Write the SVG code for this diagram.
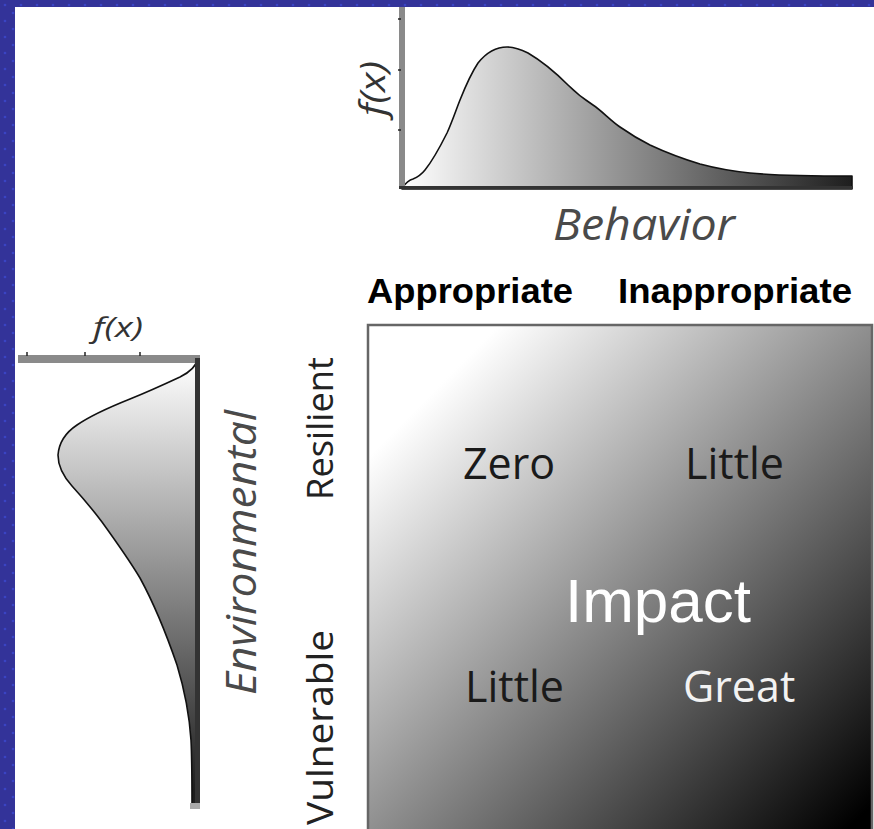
<svg xmlns="http://www.w3.org/2000/svg" width="874" height="829" viewBox="0 0 874 829">
  <defs>
    <pattern id="dots" width="16" height="16" patternUnits="userSpaceOnUse">
      <rect width="16" height="16" fill="#333399"/>
      <circle cx="5" cy="5" r="1.3" fill="#3a44c4"/>
      <circle cx="13" cy="13" r="1.3" fill="#3a44c4"/>
    </pattern>
    <linearGradient id="gradBehavior" gradientUnits="userSpaceOnUse" x1="403" y1="0" x2="852" y2="0">
      <stop offset="0" stop-color="#ffffff"/>
      <stop offset="1" stop-color="#1e1e1e"/>
    </linearGradient>
    <linearGradient id="gradEnv" gradientUnits="userSpaceOnUse" x1="0" y1="360" x2="0" y2="790">
      <stop offset="0" stop-color="#ffffff"/>
      <stop offset="1" stop-color="#1e1e1e"/>
    </linearGradient>
    <linearGradient id="gradImpact" x1="0" y1="0" x2="1" y2="1">
      <stop offset="0.13" stop-color="#ffffff"/>
      <stop offset="0.97" stop-color="#000000"/>
    </linearGradient>
    <style>
      .axis { fill: #8a8a8a; }
      .tick { stroke: #222; stroke-width: 1.5; }
      .curve { stroke: #111; stroke-width: 1.6; stroke-linejoin: round; }
      .ital { font-family: "Open Sans", "DejaVu Sans", sans-serif; font-style: italic; }
      .plain { font-family: "Open Sans", "DejaVu Sans", sans-serif; }
      .head { font-family: "Liberation Sans", Arial, sans-serif; font-weight: bold; font-size: 35px; fill: #000; }
      .cell { font-family: "Open Sans", "DejaVu Sans", sans-serif; font-size: 43px; }
    </style>
  </defs>

  <!-- slide background and white panel -->
  <rect width="874" height="829" fill="url(#dots)"/>
  <rect x="15" y="7" width="859" height="822" fill="#ffffff"/>

  <!-- behaviour distribution (top) -->
  <g id="behavior-chart">
    <path d="M402,188 C405,184 409,180 413,179 C418,177 421,175 425,170 C433,160 440,147 447,133 C452,122 456,110 460,100 C466,85 472,72 478,63 C486,53 495,47 507,47 C515,47 520,49 528,53 C540,60 555,72 568,85 C576,93 582,98 593,105 C602,111 610,120 620,127 C630,134 640,140 650,145 C665,152 680,158 700,164 C715,168 730,171 750,173 C770,175 800,176 852,176 L852,189 L402,189 Z" fill="url(#gradBehavior)" class="curve"/>
    <rect x="399" y="7" width="6" height="182" class="axis"/>
    <rect x="399" y="186" width="454" height="3" fill="#333"/>
    <line x1="398" y1="19" x2="401" y2="19" class="tick"/>
    <line x1="398" y1="70" x2="401" y2="70" class="tick"/>
    <line x1="398" y1="130" x2="401" y2="130" class="tick"/>
    <text class="ital" font-size="34" fill="#333" textLength="55" lengthAdjust="spacingAndGlyphs" transform="translate(385,116) rotate(-90)">f(x)</text>
    <text class="ital" x="553" y="240" font-size="44" fill="#4a4a4a" textLength="182" lengthAdjust="spacingAndGlyphs">Behavior</text>
  </g>

  <!-- environmental distribution (left) -->
  <g id="environmental-chart">
    <path d="M197,360 C196,366 192,371 180,377 C165,384 150,391 130,399 C110,407 90,416 77,425 C65,433 59,442 58,455 C58,466 63,476 72,486 C82,497 93,510 102,522 C115,540 128,558 140,578 C152,600 165,630 177,665 C184,688 189,710 191,740 C192,760 192,785 192,805 L199,805 L199,360 Z" fill="url(#gradEnv)" class="curve"/>
    <rect x="18" y="355" width="182" height="8" class="axis"/>
    <rect x="195" y="358" width="5" height="448" fill="#333"/>
    <rect x="190" y="803" width="10" height="6" fill="#aaa"/>
    <line x1="27" y1="352" x2="27" y2="356" class="tick"/>
    <line x1="85" y1="352" x2="85" y2="356" class="tick"/>
    <line x1="140" y1="352" x2="140" y2="356" class="tick"/>
    <text class="ital" x="93" y="337" font-size="28" fill="#333" textLength="50" lengthAdjust="spacingAndGlyphs">f(x)</text>
    <text class="ital" font-size="42" fill="#4a4a4a" textLength="285" lengthAdjust="spacingAndGlyphs" transform="translate(256,695) rotate(-90)">Environmental</text>
  </g>

  <!-- row labels -->
  <g id="row-labels">
    <text class="plain" font-size="36" fill="#222" textLength="143" lengthAdjust="spacingAndGlyphs" transform="translate(333,500) rotate(-90)">Resilient</text>
    <text class="plain" font-size="37" fill="#222" textLength="195" lengthAdjust="spacingAndGlyphs" transform="translate(333,825) rotate(-90)">Vulnerable</text>
  </g>

  <!-- column labels -->
  <g id="column-labels">
    <text class="head" x="367" y="303" textLength="206" lengthAdjust="spacingAndGlyphs">Appropriate</text>
    <text class="head" x="618" y="303" textLength="234" lengthAdjust="spacingAndGlyphs">Inappropriate</text>
  </g>

  <!-- impact matrix -->
  <g id="impact-matrix">
    <rect x="368" y="325" width="504" height="510" fill="url(#gradImpact)" stroke="#666" stroke-width="2.5"/>
    <text class="cell" x="463" y="479" fill="#1a1a1a">Zero</text>
    <text class="cell" x="685" y="479" fill="#1a1a1a">Little</text>
    <text class="cell" x="465" y="702" fill="#1a1a1a">Little</text>
    <text class="cell" x="683" y="702" fill="#f2f2f2">Great</text>
    <text x="565" y="622" font-family="Liberation Sans, Arial, sans-serif" font-size="62" fill="#ffffff">Impact</text>
  </g>
</svg>
